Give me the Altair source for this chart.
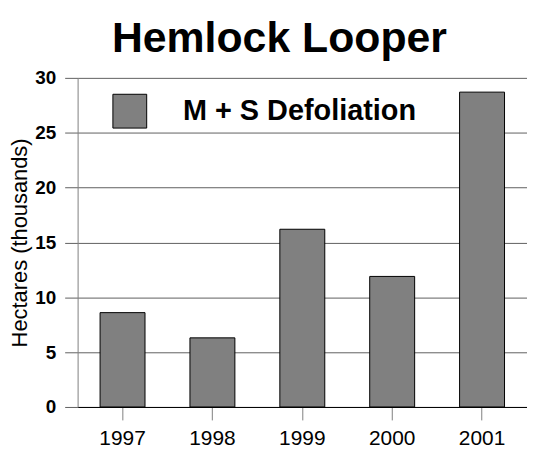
import altair as alt
import pandas as pd

years = ["1997", "1998", "1999", "2000", "2001"]
values = [8.6, 6.3, 16.2, 11.9, 28.7]
series = ["M + S Defoliation"] * len(years)
y_ticks = [0, 5, 10, 15, 20, 25, 30]

df = pd.DataFrame({"year": years, "hectares": values, "series": series})

FONT = "Liberation Sans"

chart = alt.Chart(df).mark_bar(stroke="black", strokeWidth=1).encode(
    x=alt.X(
        "year:N", sort=years, title=None,
        scale=alt.Scale(paddingInner=0.5, paddingOuter=0.25),
        axis=alt.Axis(labelAngle=0, labelFont=FONT, labelFontSize=21, labelColor="black",
                      labelPadding=8, tickSize=13, tickColor="#808080", domainColor="black",
                      domainWidth=1, grid=False),
    ),
    y=alt.Y(
        "hectares:Q", title="Hectares (thousands)",
        scale=alt.Scale(domain=[0, 30], nice=False),
        axis=alt.Axis(values=y_ticks, labelFont=FONT, labelFontSize=19, labelFontWeight="bold",
                      labelColor="black", labelPadding=9, tickSize=13, tickColor="#606060",
                      domainColor="#808080", grid=True, gridColor="#606060", gridOpacity=1,
                      titleFont=FONT, titleFontSize=22, titleFontWeight="normal",
                      titleColor="black", titlePadding=3),
    ),
    color=alt.Color(
        "series:N", title=None, scale=alt.Scale(range=["#808080"]),
        legend=alt.Legend(orient="none", legendX=35, legendY=16, padding=0,
                          symbolType="square", symbolSize=1156, symbolStrokeColor="black",
                          symbolStrokeWidth=1, symbolOpacity=1, labelFont=FONT,
                          labelFontSize=29, labelFontWeight="bold", labelColor="black",
                          labelOffset=36, labelLimit=400),
    ),
).properties(
    width=452, height=331,
    padding={"top": 9, "left": 0, "right": 0, "bottom": 0},
    title=alt.Title("Hemlock Looper", font=FONT, fontSize=43, fontWeight="bold",
                    color="black", anchor="middle", dx=-23, offset=8),
).configure_view(stroke=None)

chart.save("out.html", embed_options={"renderer": "svg", "actions": False})
